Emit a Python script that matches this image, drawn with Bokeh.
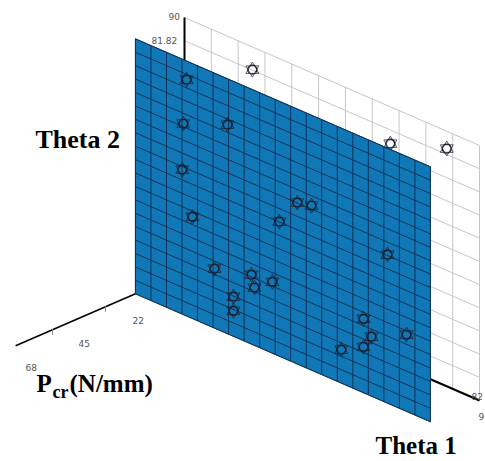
from bokeh.plotting import figure
from bokeh.models import Range1d
from bokeh.core.properties import value
from bokeh.embed import file_html
from bokeh.resources import INLINE

# Data: Theta 1 (deg), Theta 2 (deg), Pcr (N/mm)
theta1 = [15.6, 14.6, 28.1, 14.3, 17.4, 24.1, 35.4, 36.3, 41.8, 29.9, 29.9, 43.9, 49.4, 53.7, 76.9, 69.6, 72.0, 69.6, 62.8, 82.7]
theta2 = [83.4, 67.4, 73.8, 51.0, 35.9, 21.0, 24.5, 20.4, 25.2, 14.0, 9.0, 47.5, 57.0, 58.1, 52.4, 26.1, 21.0, 16.2, 11.8, 27.1]
back_theta1 = [20.7, 62.8, 80.0]
back_theta2 = [82.0, 77.0, 83.9]
angle_max = 90.0
cells_wall = 11
cells_plane = 19
pcr_wall = 10.7
pcr_plane = 32.0
pcr_end = 84.0
pcr_ticks = [45, 68]
pcr_labels = ["22", "45", "68"]

FILL = "#1078b6"
MESH = "#10335c"
WALL = "#c6c6c6"
MARK = "#181c2c"
TICK = "#555555"


def X(t1, pcr):
    return 184 + 3.278 * t1 - 2.304 * (pcr - pcr_wall)


def Y(t1, t2, pcr):
    return 272 + 1.422 * t1 + 1.0 * (pcr - pcr_wall) - 2.833 * t2


p = figure(width=485, height=461, x_range=Range1d(0, 485), y_range=Range1d(461, 0),
           output_backend="svg", toolbar_location=None, min_border=0,
           outline_line_color=None, background_fill_color="white", border_fill_color="white")
p.axis.visible = False
p.grid.visible = False


def seg(t1a, t2a, pa, t1b, t2b, pb, **kw):
    p.line([X(t1a, pa), X(t1b, pb)], [Y(t1a, t2a, pa), Y(t1b, t2b, pb)], **kw)


# Back wall
for i in range(cells_wall + 1):
    v = angle_max * i / cells_wall
    seg(v, 0, pcr_wall, v, angle_max, pcr_wall, line_color=WALL, line_width=1)
    seg(0, v, pcr_wall, angle_max, v, pcr_wall, line_color=WALL, line_width=1)

# Bold axes
seg(0, 0, pcr_wall, 0, angle_max, pcr_wall, line_color="black", line_width=2)
seg(0, 0, pcr_wall, angle_max, 0, pcr_wall, line_color="black", line_width=2)
seg(0, 0, pcr_wall, 0, 0, pcr_end, line_color="black", line_width=1.5)
for t in pcr_ticks:
    p.line([X(0, t), X(0, t)], [Y(0, 0, t) - 1, Y(0, 0, t) + 5], line_color="#888888", line_width=1)

# Markers behind the plane
bx = [X(a, pcr_wall) for a in back_theta1]
by = [Y(a, b, pcr_wall) for a, b in zip(back_theta1, back_theta2)]


def stars(xs, ys):
    p.scatter(xs, ys, marker="circle", size=9, fill_color=None, line_color=MARK, line_width=1.2)
    p.scatter(xs, ys, marker="triangle", size=13, fill_color=None, line_color=MARK, line_width=0.7)
    p.scatter(xs, ys, marker="inverted_triangle", size=13, fill_color=None, line_color=MARK, line_width=0.7)


stars(bx, by)

# Plane
cx = [X(0, pcr_plane), X(angle_max, pcr_plane), X(angle_max, pcr_plane), X(0, pcr_plane)]
cy = [Y(0, 0, pcr_plane), Y(angle_max, 0, pcr_plane), Y(angle_max, angle_max, pcr_plane), Y(0, angle_max, pcr_plane)]
p.patch(cx, cy, fill_color=FILL, line_color=MESH, line_width=0.8)
for i in range(cells_plane + 1):
    v = angle_max * i / cells_plane
    seg(v, 0, pcr_plane, v, angle_max, pcr_plane, line_color=MESH, line_width=1)
    seg(0, v, pcr_plane, angle_max, v, pcr_plane, line_color=MESH, line_width=1)

stars([X(a, pcr_plane) for a in theta1], [Y(a, b, pcr_plane) for a, b in zip(theta1, theta2)])


def txt(x, y, s, size, color="black", font="Liberation Serif", style="bold", align="left"):
    p.text([x], [y], text=[s], text_font=value(font), text_font_size=size, text_font_style=style,
           text_color=color, text_align=align, text_baseline="middle")


# Tick labels
txt(168, 16, "90", "9px", TICK, "DejaVu Sans", "normal")
txt(151, 40, "81.82", "9px", TICK, "DejaVu Sans", "normal")
txt(132, 320, pcr_labels[0], "9px", TICK, "DejaVu Sans", "normal")
txt(78, 343, pcr_labels[1], "9px", TICK, "DejaVu Sans", "normal")
txt(25, 367, pcr_labels[2], "9px", TICK, "DejaVu Sans", "normal")
txt(471, 396, "82", "9px", TICK, "DejaVu Sans", "normal")
txt(478, 416, "9", "9px", TICK, "DejaVu Sans", "normal")

# Axis titles
txt(35, 139, "Theta 2", "26px")
txt(36, 383, "P", "25px")
txt(52, 391, "cr", "18px")
txt(69, 383, "(N/mm)", "25px")
txt(375, 445, "Theta 1", "25px")

open("out.html", "w").write(file_html(p, INLINE))
